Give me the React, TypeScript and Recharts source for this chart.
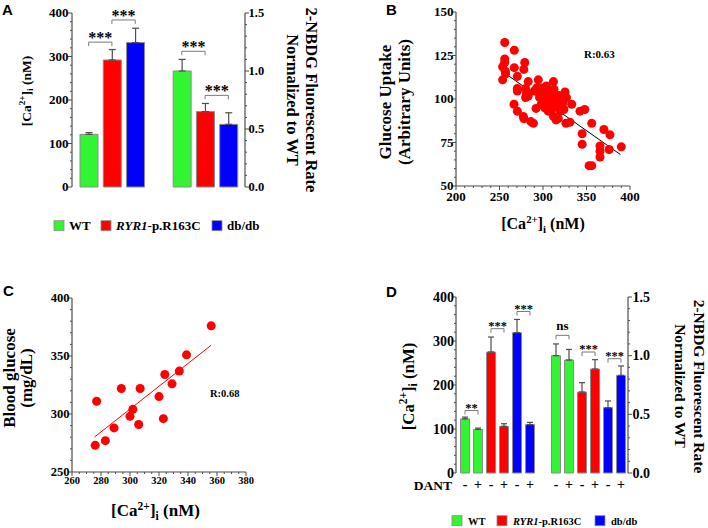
import React from 'react';
import {
  BarChart,
  Bar,
  Cell,
  XAxis,
  YAxis,
  ErrorBar,
  ReferenceLine,
  ScatterChart,
  Scatter,
} from 'recharts';

const SERIF = '"Liberation Serif", "Times New Roman", serif';
const SANS = '"Liberation Sans", Arial, sans-serif';
const GREEN = '#33f433';
const RED = '#ff0000';
const BLUE = '#0000ff';
const AXIS = '#4d4d4d';
const EDGE = '#8c8c8c';

// ---------- panel A ----------
const aCategories = ['WT Ca', 'RYR1 Ca', 'db Ca', '', 'WT NBDG', 'RYR1 NBDG', 'db NBDG'];
const aCalcium = [121, 292, 332, null, null, null, null];
const aCalciumErr = [4, 24, 33, null, null, null, null];
const aUptake = [null, null, null, null, 1.0, 0.65, 0.54];
const aUptakeErr = [null, null, null, null, 0.1, 0.07, 0.1];
const aSigCalcium = [
  { from: 'WT Ca', to: 'RYR1 Ca', y: 333, label: '***' },
  { from: 'RYR1 Ca', to: 'db Ca', y: 384, label: '***' },
];
const aSigUptake = [
  { from: 'WT NBDG', to: 'RYR1 NBDG', y: 1.17, label: '***' },
  { from: 'RYR1 NBDG', to: 'db NBDG', y: 0.79, label: '***' },
];

// ---------- panel B ----------
const bCalcium = [
  256, 267, 256, 256, 253.6, 256.7, 253.6, 267, 279, 278, 270.5, 283, 270.5, 270.5, 280, 281,
  280, 283, 290, 294.6, 266.7, 270.5, 277.4, 278, 286, 289, 292, 299.6, 302, 300, 304, 306,
  308, 310, 312.6, 312, 313.8, 310, 312, 315, 317.6, 321.5, 325.3, 327, 323, 324, 326.4, 331,
  333, 342.5, 348, 345, 345, 356, 356, 353, 300, 304, 293, 370, 377, 365.5, 365.5, 365.5, 376,
  390, 318, 305, 316, 298, 320, 310, 302, 296, 319, 307, 257,
];
const bUptake = [
  132.5, 128, 123, 121, 118.5, 116, 111, 118, 121, 117, 113, 110, 106, 104.6, 106, 103,
  100.8, 101.7, 104.6, 111, 97, 93, 90, 88.7, 87, 86, 94.6, 103.7, 101.7, 99, 96, 93,
  103.7, 101, 105.6, 110, 97.5, 94, 90, 88, 88.7, 101.7, 104, 100.8, 98, 94, 86, 86.7,
  97, 93, 94, 80, 74, 86, 61.7, 61.7, 106.5, 107.5, 106.5, 82.5, 79.4, 73, 70, 66.7, 71,
  72.5, 102, 100, 96, 97, 93, 98, 95, 101, 99, 104, 114.5,
];
const bFitX = [259, 389];
const bFitY = [113.8, 68.1];

// ---------- panel C ----------
const cCalcium = [356, 339, 334, 324, 329, 307, 294, 320, 277, 302, 300, 323, 306, 289, 283, 276];
const cGlucose = [376, 351, 337, 334, 326, 322, 322, 315, 311, 304, 298, 296, 291, 288, 277, 273];
const cFitX = [275.6, 355.9];
const cFitY = [280.2, 359.2];

// ---------- panel D ----------
const dCategories = [
  'WT -', 'WT +', 'RYR1 -', 'RYR1 +', 'db -', 'db +', '',
  'WT - N', 'WT + N', 'RYR1 - N', 'RYR1 + N', 'db - N', 'db + N',
];
const dDant = ['-', '+', '-', '+', '-', '+', '', '-', '+', '-', '+', '-', '+'];
const dCalcium = [123, 99, 275, 106, 319, 110, null, null, null, null, null, null, null];
const dCalciumErr = [4, 3, 34, 6, 30, 5, null, null, null, null, null, null, null];
const dUptake = [null, null, null, null, null, null, null, 1.0, 0.963, 0.69, 0.886, 0.557, 0.832];
const dUptakeErr = [null, null, null, null, null, null, null, 0.1, 0.09, 0.08, 0.08, 0.057, 0.08];
const dSigCalcium = [
  { from: 'WT -', to: 'WT +', y: 142, label: '**' },
  { from: 'RYR1 -', to: 'RYR1 +', y: 328, label: '***' },
  { from: 'db -', to: 'db +', y: 367, label: '***' },
];
const dSigUptake = [
  { from: 'WT - N', to: 'WT + N', y: 1.173, label: 'ns' },
  { from: 'RYR1 - N', to: 'RYR1 + N', y: 1.031, label: '***' },
  { from: 'db - N', to: 'db + N', y: 0.974, label: '***' },
];

const groupColors = [GREEN, GREEN, RED, RED, BLUE, BLUE, 'none', GREEN, GREEN, RED, RED, BLUE, BLUE];
const aColors = [GREEN, RED, BLUE, 'none', GREEN, RED, BLUE];

const range = (a: number, b: number, s: number) => {
  const out: number[] = [];
  for (let v = a; v <= b + 1e-9; v += s) out.push(Math.round(v * 1000) / 1000);
  return out;
};

const aRows = aCategories.map((cat, i) => ({
  cat,
  ca: aCalcium[i],
  caErr: aCalciumErr[i],
  nb: aUptake[i],
  nbErr: aUptakeErr[i],
}));
const dRows = dCategories.map((cat, i) => ({
  cat,
  ca: dCalcium[i],
  caErr: dCalciumErr[i],
  nb: dUptake[i],
  nbErr: dUptakeErr[i],
}));
const bPoints = bCalcium.map((x, i) => ({ x, y: bUptake[i] }));
const cPoints = cCalcium.map((x, i) => ({ x, y: cGlucose[i] }));

const upOnly = (key: string) => (d: any) => (d[key] == null ? undefined : [0, d[key]]);

function makeTick(o: {
  majors: number[];
  side: 'left' | 'right' | 'bottom';
  size: number;
  gap: number;
  fmt?: (v: number) => string;
}) {
  return (props: any) => {
    const { x, y, payload } = props;
    const v = Number(payload.value);
    const major = o.majors.some((m) => Math.abs(m - v) < 1e-6);
    const len = major ? 4 : 2;
    const txt = major ? (o.fmt ? o.fmt(v) : String(v)) : '';
    const font = { fontFamily: SERIF, fontWeight: 'bold' as const, fontSize: o.size, fill: '#000' };
    if (o.side === 'left') {
      return (
        <g>
          <line x1={x - len} y1={y} x2={x} y2={y} stroke={AXIS} strokeWidth={1} />
          {txt && <text x={x - o.gap} y={y + o.size * 0.34} textAnchor="end" {...font}>{txt}</text>}
        </g>
      );
    }
    if (o.side === 'right') {
      return (
        <g>
          <line x1={x} y1={y} x2={x + len} y2={y} stroke={AXIS} strokeWidth={1} />
          {txt && <text x={x + o.gap} y={y + o.size * 0.34} textAnchor="start" {...font}>{txt}</text>}
        </g>
      );
    }
    return (
      <g>
        <line x1={x} y1={y} x2={x} y2={y + len} stroke={AXIS} strokeWidth={1} />
        {txt && <text x={x} y={y + o.gap} textAnchor="middle" {...font}>{txt}</text>}
      </g>
    );
  };
}

const bracket = (label: string, size: number) => (props: any) => {
  const { x1, y1, x2 } = props;
  const stars = label.includes('*');
  return (
    <g>
      <path d={`M${x1},${y1 + 4}L${x1},${y1}L${x2},${y1}L${x2},${y1 + 4}`} fill="none" stroke="#7a7a7a" strokeWidth={1} />
      <text
        x={(x1 + x2) / 2}
        y={stars ? y1 + 1 : y1 - 5}
        textAnchor="middle"
        fontFamily={SERIF}
        fontWeight="bold"
        fontSize={size}
      >
        {label}
      </text>
    </g>
  );
};

function CaLabel({ x, y, size, rotate }: { x: number; y: number; size: number; rotate: number }) {
  const s = size * 0.68;
  return (
    <text
      transform={`translate(${x},${y}) rotate(${rotate})`}
      textAnchor="middle"
      fontFamily={SERIF}
      fontWeight="bold"
      fontSize={size}
    >
      [Ca
      <tspan fontSize={s} dy={-size * 0.38}>2+</tspan>
      <tspan dy={size * 0.38}>]</tspan>
      <tspan fontSize={s} dy={size * 0.22}>i</tspan>
      <tspan dy={-size * 0.22}> (nM)</tspan>
    </text>
  );
}

function VText({ x, y, size, rotate, children }: any) {
  return (
    <text
      transform={`translate(${x},${y}) rotate(${rotate})`}
      textAnchor="middle"
      fontFamily={SERIF}
      fontWeight="bold"
      fontSize={size}
    >
      {children}
    </text>
  );
}

const axisLine = { stroke: AXIS, strokeWidth: 1.2 };

// axes need a non-zero size to be drawn, so they get 1px and the margins lose 1px
function PanelA() {
  return (
    <BarChart
      width={354}
      height={264}
      data={aRows}
      margin={{ top: 13, right: 108, bottom: 77, left: 71 }}
      barGap={-18}
    >
      <XAxis dataKey="cat" hide padding={{ left: 5, right: 5 }} />
      <YAxis
        yAxisId="ca"
        orientation="left"
        width={1}
        type="number"
        domain={[0, 400]}
        ticks={range(0, 400, 20)}
        interval={0}
        tickSize={0}
        tickMargin={0}
        tickLine={false}
        axisLine={axisLine}
        tick={makeTick({ majors: [0, 100, 200, 300, 400], side: 'left', size: 13, gap: 3.5 })}
      />
      <YAxis
        yAxisId="nb"
        orientation="right"
        width={1}
        type="number"
        domain={[0, 1.5]}
        ticks={range(0, 1.5, 0.1)}
        interval={0}
        tickSize={0}
        tickMargin={0}
        tickLine={false}
        axisLine={axisLine}
        tick={makeTick({ majors: [0, 0.5, 1, 1.5], side: 'right', size: 12.5, gap: 3.5, fmt: (v) => v.toFixed(1) })}
      />
      <Bar yAxisId="ca" dataKey="ca" barSize={18} stroke={EDGE} strokeWidth={1} isAnimationActive={false}>
        {aRows.map((r, i) => (
          <Cell key={r.cat + i} fill={aColors[i]} />
        ))}
        <ErrorBar dataKey={upOnly('caErr')} width={3.5} stroke={AXIS} strokeWidth={1.2} direction="y" />
      </Bar>
      <Bar yAxisId="nb" dataKey="nb" barSize={18} stroke={EDGE} strokeWidth={1} isAnimationActive={false}>
        {aRows.map((r, i) => (
          <Cell key={r.cat + i} fill={aColors[i]} />
        ))}
        <ErrorBar dataKey={upOnly('nbErr')} width={3.5} stroke={AXIS} strokeWidth={1.2} direction="y" />
      </Bar>
      {aSigCalcium.map((s) => (
        <ReferenceLine
          key={s.from + s.to}
          yAxisId="ca"
          segment={[{ x: s.from, y: s.y }, { x: s.to, y: s.y }]}
          ifOverflow="visible"
          shape={bracket(s.label, 16)}
        />
      ))}
      {aSigUptake.map((s) => (
        <ReferenceLine
          key={s.from + s.to}
          yAxisId="nb"
          segment={[{ x: s.from, y: s.y }, { x: s.to, y: s.y }]}
          ifOverflow="visible"
          shape={bracket(s.label, 16)}
        />
      ))}
    </BarChart>
  );
}

function PanelB() {
  return (
    <ScatterChart width={354} height={264} margin={{ top: 12, right: 78, bottom: 77, left: 101 }}>
      <XAxis
        dataKey="x"
        type="number"
        domain={[200, 400]}
        ticks={range(200, 400, 10)}
        interval={0}
        height={1}
        tickSize={0}
        tickMargin={0}
        tickLine={false}
        axisLine={axisLine}
        tick={makeTick({ majors: [200, 250, 300, 350, 400], side: 'bottom', size: 13, gap: 14.5 })}
      />
      <YAxis
        dataKey="y"
        type="number"
        domain={[50, 150]}
        ticks={range(50, 150, 5)}
        interval={0}
        width={1}
        tickSize={0}
        tickMargin={0}
        tickLine={false}
        axisLine={axisLine}
        tick={makeTick({ majors: [50, 75, 100, 125, 150], side: 'left', size: 13, gap: 2.5 })}
      />
      <Scatter data={bPoints} fill={RED} isAnimationActive={false} />
      <ReferenceLine
        segment={[{ x: bFitX[0], y: bFitY[0] }, { x: bFitX[1], y: bFitY[1] }]}
        stroke="#000"
        strokeWidth={1}
        ifOverflow="visible"
      />
    </ScatterChart>
  );
}

function PanelC() {
  return (
    <ScatterChart width={354} height={264} margin={{ top: 34, right: 108, bottom: 55, left: 71 }}>
      <XAxis
        dataKey="x"
        type="number"
        domain={[260, 380]}
        ticks={range(260, 380, 5)}
        interval={0}
        height={1}
        tickSize={0}
        tickMargin={0}
        tickLine={false}
        axisLine={axisLine}
        tick={makeTick({ majors: [260, 280, 300, 320, 340, 360, 380], side: 'bottom', size: 10.5, gap: 12 })}
      />
      <YAxis
        dataKey="y"
        type="number"
        domain={[250, 400]}
        ticks={range(250, 400, 10)}
        interval={0}
        width={1}
        tickSize={0}
        tickMargin={0}
        tickLine={false}
        axisLine={axisLine}
        tick={makeTick({ majors: [250, 300, 350, 400], side: 'left', size: 12.5, gap: 2.5 })}
      />
      <Scatter data={cPoints} fill={RED} isAnimationActive={false} />
      <ReferenceLine
        segment={[{ x: cFitX[0], y: cFitY[0] }, { x: cFitX[1], y: cFitY[1] }]}
        stroke={RED}
        strokeWidth={1}
        ifOverflow="visible"
      />
    </ScatterChart>
  );
}

const dantTick = (props: any) => {
  const { x, y, index } = props;
  return (
    <text x={x} y={y + 15.7} textAnchor="middle" fontFamily={SERIF} fontWeight="bold" fontSize={14}>
      {dDant[index]}
    </text>
  );
};

function PanelD() {
  return (
    <BarChart
      width={354}
      height={264}
      data={dRows}
      margin={{ top: 33, right: 79, bottom: 54, left: 101 }}
      barGap={-9}
    >
      <XAxis
        dataKey="cat"
        height={1}
        padding={{ left: 2.5, right: 0.5 }}
        interval={0}
        tickSize={0}
        tickMargin={0}
        tickLine={false}
        axisLine={false}
        tick={dantTick}
      />
      <YAxis
        yAxisId="ca"
        orientation="left"
        width={1}
        type="number"
        domain={[0, 400]}
        ticks={range(0, 400, 20)}
        interval={0}
        tickSize={0}
        tickMargin={0}
        tickLine={false}
        axisLine={axisLine}
        tick={makeTick({ majors: [0, 100, 200, 300, 400], side: 'left', size: 14, gap: 2 })}
      />
      <YAxis
        yAxisId="nb"
        orientation="right"
        width={1}
        type="number"
        domain={[0, 1.5]}
        ticks={range(0, 1.5, 0.1)}
        interval={0}
        tickSize={0}
        tickMargin={0}
        tickLine={false}
        axisLine={axisLine}
        tick={makeTick({ majors: [0, 0.5, 1, 1.5], side: 'right', size: 14, gap: 4.5, fmt: (v) => v.toFixed(1) })}
      />
      <Bar yAxisId="ca" dataKey="ca" barSize={9} stroke={EDGE} strokeWidth={1} isAnimationActive={false}>
        {dRows.map((r, i) => (
          <Cell key={r.cat + i} fill={groupColors[i]} />
        ))}
        <ErrorBar dataKey={upOnly('caErr')} width={3} stroke={AXIS} strokeWidth={1.2} direction="y" />
      </Bar>
      <Bar yAxisId="nb" dataKey="nb" barSize={9} stroke={EDGE} strokeWidth={1} isAnimationActive={false}>
        {dRows.map((r, i) => (
          <Cell key={r.cat + i} fill={groupColors[i]} />
        ))}
        <ErrorBar dataKey={upOnly('nbErr')} width={3} stroke={AXIS} strokeWidth={1.2} direction="y" />
      </Bar>
      {dSigCalcium.map((s) => (
        <ReferenceLine
          key={s.from + s.to}
          yAxisId="ca"
          segment={[{ x: s.from, y: s.y }, { x: s.to, y: s.y }]}
          ifOverflow="visible"
          shape={bracket(s.label, 12.5)}
        />
      ))}
      {dSigUptake.map((s) => (
        <ReferenceLine
          key={s.from + s.to}
          yAxisId="nb"
          segment={[{ x: s.from, y: s.y }, { x: s.to, y: s.y }]}
          ifOverflow="visible"
          shape={bracket(s.label, s.label === 'ns' ? 13 : 12.5)}
        />
      ))}
    </BarChart>
  );
}

function LegendItems({ y, size, box, gapText, positions }: any) {
  const font = { fontFamily: SERIF, fontWeight: 'bold' as const, fontSize: size };
  const colors = [GREEN, RED, BLUE];
  return (
    <g>
      {colors.map((c, i) => (
        <rect key={c} x={positions[i]} y={y} width={box} height={box} fill={c} stroke={EDGE} strokeWidth={0.8} />
      ))}
      <text x={positions[0] + gapText} y={y + box - 0.5} {...font}>WT</text>
      <text x={positions[1] + gapText} y={y + box - 0.5} {...font}>
        <tspan fontStyle="italic">RYR1</tspan>-p.R163C
      </text>
      <text x={positions[2] + gapText} y={y + box - 0.5} {...font}>db/db</text>
    </g>
  );
}

function Overlay() {
  const letter = { fontFamily: SANS, fontWeight: 'bold' as const, fontSize: 15 };
  return (
    <svg
      width={708}
      height={528}
      style={{ position: 'absolute', left: 0, top: 0, pointerEvents: 'none' }}
    >
      <text x={2} y={15} {...letter}>A</text>
      <text x={386} y={15} {...letter}>B</text>
      <text x={3} y={296} {...letter}>C</text>
      <text x={386} y={297} {...letter}>D</text>

      {/* panel A titles */}
      <CaLabel x={30.5} y={91} size={13.5} rotate={-90} />
      <VText x={305.5} y={100} size={16.5} rotate={90}>2-NBDG Fluorescent Rate</VText>
      <VText x={287} y={100} size={16.5} rotate={90}>Normalized to WT</VText>
      <LegendItems y={220.7} size={13} box={10} gapText={15} positions={[54, 101, 212]} />

      {/* panel B titles */}
      <VText x={390.5} y={102} size={17} rotate={-90}>Glucose Uptake</VText>
      <VText x={410} y={102} size={17} rotate={-90}>(Arbitrary Units)</VText>
      <CaLabel x={543} y={229} size={16} rotate={0} />
      <text x={584} y={57.5} fontFamily={SERIF} fontWeight="bold" fontSize={11}>R:0.63</text>

      {/* panel C titles */}
      <VText x={15} y={378} size={17} rotate={-90}>Blood glucose</VText>
      <VText x={32} y={378} size={17} rotate={-90}>(mg/dL)</VText>
      <CaLabel x={155.5} y={516} size={17} rotate={0} />
      <text x={210} y={397.3} fontFamily={SERIF} fontWeight="bold" fontSize={10.5}>R:0.68</text>

      {/* panel D titles */}
      <CaLabel x={413.5} y={386.5} size={16.8} rotate={-90} />
      <VText x={693.5} y={386.5} size={15.5} rotate={90}>2-NBDG Fluorescent Rate</VText>
      <VText x={675} y={386} size={15.5} rotate={90}>Normalized to WT</VText>
      <text x={452} y={490} textAnchor="end" fontFamily={SERIF} fontWeight="bold" fontSize={13.5}>DANT</text>
      <LegendItems y={515.7} size={10.5} box={10} gapText={16} positions={[452, 497, 595]} />
    </svg>
  );
}

export default function App() {
  return (
    <div
      style={{
        position: 'absolute',
        left: 0,
        top: 0,
        width: 708,
        height: 528,
        background: '#fff',
        overflow: 'hidden',
      }}
    >
      <div style={{ position: 'absolute', left: 0, top: 0 }}>
        <PanelA />
      </div>
      <div style={{ position: 'absolute', left: 354, top: 0 }}>
        <PanelB />
      </div>
      <div style={{ position: 'absolute', left: 0, top: 264 }}>
        <PanelC />
      </div>
      <div style={{ position: 'absolute', left: 354, top: 264 }}>
        <PanelD />
      </div>
      <Overlay />
    </div>
  );
}
